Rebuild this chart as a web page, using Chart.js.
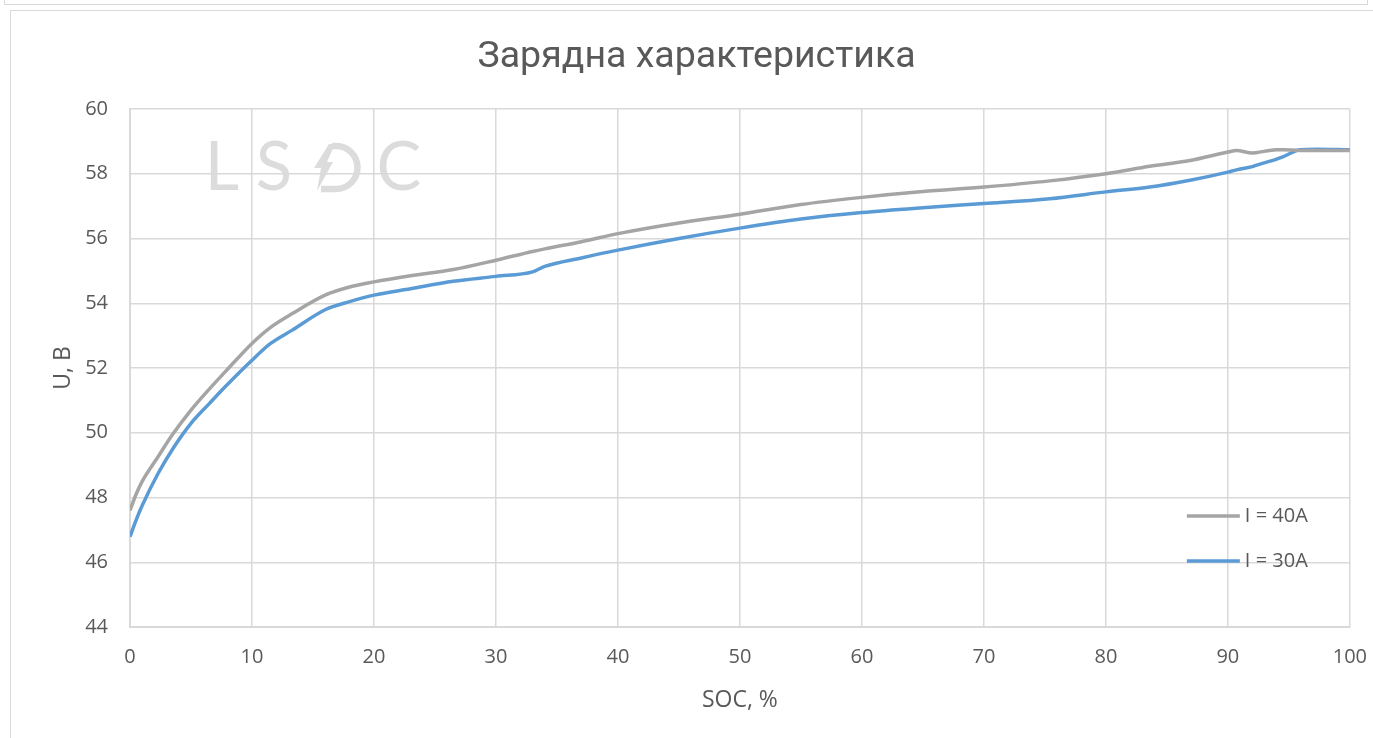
<!DOCTYPE html>
<html>
<head>
<meta charset="utf-8">
<script src="https://cdn.jsdelivr.net/npm/chart.js@4.4.0/dist/chart.umd.min.js"></script>
<style>
  html, body { margin: 0; padding: 0; background: #fff; overflow: hidden; width: 1373px; height: 738px; }
  #top { position: absolute; left: 4px; top: -10px; width: 1362px; height: 13px; border: 1px solid #d9d9d9; }
  #frame { position: absolute; left: 10px; top: 10px; width: 1380px; height: 740px; border: 1px solid #d9d9d9; }
  #wrap { position: absolute; left: 0; top: 0; width: 1385px; height: 738px; }
</style>
</head>
<body>
<div id="top"></div>
<div id="frame"></div>
<div id="wrap"><canvas id="chart"></canvas></div>
<script>
const soc = [0, 0.5, 1, 2.3, 3.5, 5, 6.5, 7.8, 10, 11.5, 13.3, 16, 18, 20, 23, 26.5, 30, 33, 34, 37, 40, 45, 50, 55, 60, 65, 70, 75.4, 80, 83.6, 86.9, 90, 90.7, 92, 92.3, 94, 94.5, 95.9, 97.3, 100];
const u40 = [47.6, 48.1, 48.5, 49.26, 49.95, 50.7, 51.35, 51.88, 52.76, 53.25, 53.68, 54.25, 54.5, 54.66, 54.85, 55.04, 55.33, 55.6, 55.68, 55.9, 56.15, 56.48, 56.75, 57.05, 57.27, 57.45, 57.59, 57.78, 58.0, 58.23, 58.41, 58.67, 58.72, 58.64, 58.65, 58.74, 58.74, 58.72, 58.72, 58.72];
const u30 = [46.79, 47.3, 47.75, 48.74, 49.5, 50.29, 50.9, 51.42, 52.24, 52.75, 53.17, 53.8, 54.05, 54.25, 54.45, 54.68, 54.83, 54.97, 55.14, 55.4, 55.64, 56.0, 56.32, 56.6, 56.8, 56.95, 57.08, 57.23, 57.44, 57.59, 57.8, 58.05, 58.12, 58.22, 58.26, 58.45, 58.52, 58.74, 58.76, 58.74];
const seriesNames = ['I = 40A', 'I = 30A'];
const seriesColors = ['#A5A5A5', '#5B9BD5'];

const textColor = '#595959';
const gridColor = '#D9D9D9';
const tickFont = { family: 'Open Sans', size: 20 };
const axisTitleFont = { family: 'Open Sans', size: 23 };

function points(ys) {
  return soc.map((x, i) => ({ x: x, y: ys[i] }));
}

// watermark "LSDC" behind the grid
const watermark = {
  id: 'watermark',
  beforeDraw(chart) {
    const c = chart.ctx;
    c.save();
    c.fillStyle = '#DCDCDC';
    c.strokeStyle = '#DCDCDC';
    c.font = '67px Lato';
    c.textAlign = 'center';
    c.textBaseline = 'alphabetic';
    c.fillText('L', 222, 190);
    c.fillText('S', 274, 190);
    c.fillText('C', 399, 190);
    // D with a lightning bolt as its stem
    c.lineWidth = 6.5;
    c.beginPath();
    c.moveTo(332, 146);
    c.lineTo(336, 146);
    c.arc(336, 167.5, 21.5, -Math.PI / 2, Math.PI / 2);
    c.lineTo(321, 189);
    c.stroke();
    c.beginPath();
    c.moveTo(329, 144);
    c.lineTo(335, 144);
    c.lineTo(327, 162);
    c.lineTo(333, 162);
    c.lineTo(317, 191);
    c.lineTo(321, 168);
    c.lineTo(314, 168);
    c.closePath();
    c.fill();
    c.restore();
  }
};

// legend inside the plot area, lower right
const innerLegend = {
  id: 'innerLegend',
  afterDatasetsDraw(chart) {
    const c = chart.ctx;
    const a = chart.chartArea;
    c.save();
    c.font = '20px "Open Sans"';
    c.textBaseline = 'middle';
    c.textAlign = 'left';
    seriesNames.forEach((name, i) => {
      const y = a.bottom - 111 + i * 45;
      c.strokeStyle = seriesColors[i];
      c.lineWidth = 3.5;
      c.beginPath();
      c.moveTo(a.right - 163, y);
      c.lineTo(a.right - 110, y);
      c.stroke();
      c.fillStyle = textColor;
      c.fillText(name, a.right - 105, y);
    });
    c.restore();
  }
};

new Chart(document.getElementById('chart'), {
  type: 'line',
  data: {
    datasets: [
      { label: seriesNames[0], data: points(u40), borderColor: seriesColors[0], borderWidth: 3.5, pointRadius: 0, cubicInterpolationMode: 'monotone', fill: false },
      { label: seriesNames[1], data: points(u30), borderColor: seriesColors[1], borderWidth: 3.5, pointRadius: 0, cubicInterpolationMode: 'monotone', fill: false }
    ]
  },
  options: {
    responsive: true,
    maintainAspectRatio: false,
    animation: false,
    layout: { padding: { left: 8, right: 0, top: 0, bottom: 24 } },
    plugins: {
      legend: { display: false },
      tooltip: { enabled: false },
      title: {
        display: true,
        text: 'Зарядна характеристика',
        color: textColor,
        font: { family: 'Roboto', size: 37.5, weight: 'normal' },
        padding: { top: 35, bottom: 29 }
      }
    },
    scales: {
      x: {
        type: 'linear',
        min: 0,
        max: 100,
        ticks: { stepSize: 10, color: textColor, padding: 18, font: tickFont },
        grid: { color: gridColor, lineWidth: 1.5, drawTicks: false },
        border: { color: gridColor, width: 2 },
        title: { display: true, text: 'SOC, %', color: textColor, font: axisTitleFont, padding: { top: 0, bottom: 0 } },
        afterFit(scale) { scale.height = 87; }
      },
      y: {
        min: 44,
        max: 60,
        ticks: { stepSize: 2, color: textColor, padding: 22, font: tickFont },
        grid: { color: gridColor, lineWidth: 1.5, drawTicks: false },
        border: { color: gridColor, width: 2 },
        title: { display: true, text: 'U, В', color: textColor, font: axisTitleFont, padding: { top: 42, bottom: 0 } },
        afterFit(scale) { scale.width = 122; }
      }
    }
  },
  plugins: [watermark, innerLegend]
});
</script>
</body>
</html>
